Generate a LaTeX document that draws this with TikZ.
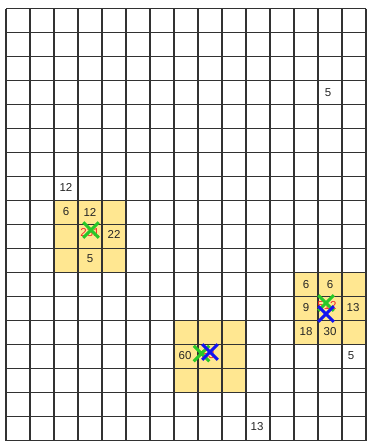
\documentclass[tikz,border=0pt]{standalone}
\usepackage{fontspec}
\setmainfont{Liberation Sans}
\usetikzlibrary{shapes.misc}
\definecolor{cellyellow}{RGB}{255,231,145}
\definecolor{gridcol}{RGB}{50,50,50}
\definecolor{xgreen}{RGB}{40,200,40}
\definecolor{xblue}{RGB}{20,20,240}
\definecolor{txtred}{RGB}{240,40,40}
\tikzset{
  gridline/.style={draw=gridcol, line width=1.5pt},
  hot/.style={fill=cellyellow, draw=none},
  num/.style={font=\fontsize{11.5}{13}\selectfont, inner sep=0pt, text=black!85},
  rednum/.style={font=\fontsize{11.5}{13}\selectfont, inner sep=0pt, text=txtred},
  xmark/.style={cross out, draw=#1, line width=3pt, minimum size=12.5pt, inner sep=0pt}
}
\begin{document}
\begin{tikzpicture}[x=1pt,y=-1pt]
\useasboundingbox (0,0) rectangle (367,444);
\fill[white] (0,0) rectangle (367,444);
% highlighted blocks
\path[hot] (54,200.7) rectangle (126,272.7);
\path[hot] (294,272.7) rectangle (366,344.7);
\path[hot] (174,320.7) rectangle (246,392.7);
% grid
\foreach \i in {0,...,15} {\draw[gridline] (6+24*\i,8.7) -- (6+24*\i,440.7);}
\foreach \j in {0,...,18} {\draw[gridline] (6,8.7+24*\j) -- (366,8.7+24*\j);}
% numbers
\node[num] (a1) at (328,92.7) {5};
\node[num] (a2) at (66,187.7) {12};
\node[num] (b1) at (66,212) {6};
\node[num] (b2) at (90,212) {12};
\node[num] (b3) at (114,234) {22};
\node[num] (b4) at (90,259) {5};
\node[rednum] (b5) at (90,233) {231};
\node[num] (c1) at (306,284.2) {6};
\node[num] (c2) at (330,284.2) {6};
\node[num] (c3) at (306,307.7) {9};
\node[num] (c4) at (353,307.7) {13};
\node[num] (c5) at (306,331.2) {18};
\node[num] (c6) at (330,331.2) {30};
\node[num] (c7) at (351,355.7) {5};
\node[rednum] (c8) at (327,306) {512};
\node[num] (d1) at (185,355.5) {60};
\node[rednum] (d2) at (208,355) {53};
\node[num] (e1) at (257,426.7) {13};
% crosses
\node[xmark=xgreen] (g1) at (91,230) {};
\node[xmark=xgreen] (g2) at (326,303) {};
\node[xmark=xblue] (u2) at (326,314) {};
\node[xmark=xgreen] (g3) at (201.5,353.5) {};
\node[xmark=xblue] (u3) at (210,352) {};
\end{tikzpicture}
\end{document}
